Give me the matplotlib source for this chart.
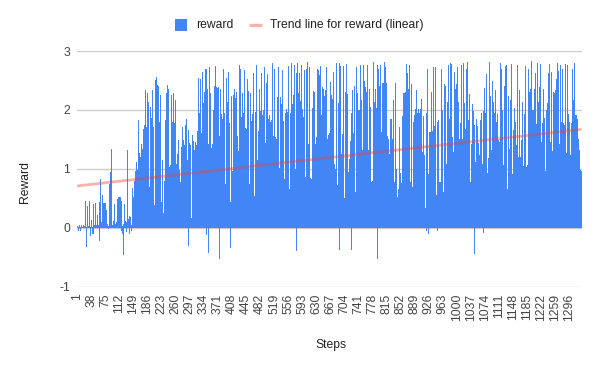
import matplotlib
matplotlib.use("Agg")
import matplotlib.pyplot as plt
from matplotlib.patches import Rectangle
from matplotlib.lines import Line2D

plt.rcParams['font.family'] = ['Liberation Sans', 'DejaVu Sans']

# Reward per step, read (estimated) from the reference chart, left to right
reward = [
0.01, 0.03, 0.02, -0.05, 0.01, 0.02, 0.05, 0.01, 0.01, -0.06, 0.02, 0.04, 0.02, 0.01, 0.02, 0.01, 0.05, 0.02, 0.01, 0.03, 0.02,
0.02, 0.46, 0.01, -0.33, 0.02, 0.03, 0.37, 0.01, 0.02, 0.03, 0.01, 0.46, 0.02, 0.02, -0.14, 0.01, 0.14, 0.03, 0.01, -0.10, 0.02,
-0.10, 0.40, 0.02, 0.05, 0.02, 0.03, 0.42, 0.02, 0.01, 0.05, 0.03, 0.21, 0.03, 0.02, 0.05, 0.01, 0.43, 0.04, -0.23, 0.83, 0.05,
0.04, 0.10, 0.02, 0.55, 0.06, 0.08, 0.42, 0.05, 0.12, 0.42, 0.06, 0.42, 0.09, 0.05, 0.31, 0.04, 0.07, 0.02, 0.01, 0.03, -0.02,
0.02, 0.74, 0.03, 0.94, 0.05, 0.03, 1.34, 0.02, 0.01, 0.04, 0.02, 0.12, 0.03, 0.05, 0.41, 0.03, 0.07, 0.02, 0.04, 0.10, 0.06,
0.09, 0.48, 0.12, 0.52, 0.31, 0.28, 0.52, 0.35, 0.22, 0.52, 0.06, 0.46, -0.06, 0.03, -0.10, 0.02, 0.06, -0.46, 0.04, 0.41, 0.05,
0.05, 0.12, 0.03, 0.10, 0.04, -0.07, 1.32, 0.06, 0.08, 0.15, 0.05, 0.20, -0.10, 0.07, 0.18, 0.04, 0.05, -0.05, 0.03, 0.68, 0.04,
0.31, 0.52, 0.44, 0.80, 0.46, 0.62, 0.96, 0.71, 0.83, 1.12, 0.75, 0.98, 0.87, 0.91, 1.83, 0.95, 1.27, 1.08, 1.05, 1.20, 1.11,
1.12, 1.43, 1.16, 1.34, 1.21, 1.25, 1.67, 1.31, 1.42, 1.75, 1.55, 2.34, 1.58, 1.50, 1.71, 1.62, 2.29, 1.64, 0.55, 2.14, 0.61,
0.42, 0.69, 0.58, 2.05, 0.63, 1.65, 1.87, 1.72, 1.60, 2.34, 1.55, 1.71, 0.31, 0.22, 0.38, 0.30, 2.50, 0.35, 2.21, 2.56, 2.34,
2.30, 2.42, 2.18, 2.40, 1.75, 1.62, 1.80, 1.71, 0.40, 2.25, 0.33, 0.43, 0.21, 0.18, 1.15, 0.22, 0.25, 0.12, 0.21, 0.80, 0.17,
0.72, 1.83, 0.65, 2.28, 1.74, 2.11, 2.42, 2.20, 0.97, 2.35, 1.01, 1.03, 0.88, 0.94, 1.06, 0.99, 2.25, 1.01, 1.62, 1.80, 1.74,
1.70, 2.29, 1.58, 1.77, 1.66, 1.03, 2.17, 0.98, 1.01, 1.09, 0.96, 1.26, 1.05, 0.93, 1.49, 0.90, 0.98, 0.72, 0.64, 0.78, 0.70,
0.71, 1.37, 0.75, 1.71, 1.28, 1.33, 1.49, 1.37, 1.30, 1.41, 1.34, 1.74, 1.29, 1.11, 1.84, 1.06, 1.15, 1.02, 1.09, 1.66, 1.13,
-0.31, 1.44, 1.32, 1.40, 0.12, 0.09, 0.16, 0.13, 0.14, 1.57, 1.28, 1.47, 1.31, 1.21, 1.32, 1.25, 1.46, 1.30, 1.27, 1.40, 1.33,
1.35, 1.64, 1.52, 2.55, 1.60, 1.58, 1.94, 1.55, 1.49, 2.52, 1.57, 1.61, 1.44, 1.52, 2.22, 1.59, 2.64, 2.05, 2.12, 2.31, 2.18,
2.21, 2.70, 2.35, 2.70, 2.28, -0.12, 2.36, 1.38, 1.35, 1.42, -0.43, 2.73, 1.40, 1.31, 1.53, 1.45, 2.29, 1.36, 1.29, 1.42, 1.33,
1.38, 2.00, 1.85, 2.40, 1.96, 2.20, 2.74, 2.31, 2.25, 2.39, 2.30, 2.38, 1.52, 1.44, 1.57, 1.50, 2.39, 1.55, -0.53, 2.36, 1.41,
1.39, 1.47, 1.42, 1.93, 1.44, 1.85, 2.69, 1.90, 0.70, 1.94, 0.66, 0.74, 0.61, 0.68, 2.55, 2.02, 2.21, 2.13, 0.42, 2.64, 0.38,
0.33, 0.46, 0.41, 1.78, 0.44, -0.35, 2.23, 0.91, 0.88, 0.96, 0.93, 2.25, 0.92, 2.05, 2.25, 2.17, 2.35, 2.20, 0.65, 2.31, 0.62,
0.58, 0.69, 0.64, 1.55, 0.67, 1.31, 2.76, 1.28, 1.25, 1.32, 1.29, 2.69, 1.30, 1.88, 1.98, 1.91, 2.28, 1.95, 1.62, 2.68, 1.66,
1.61, 1.70, 1.58, 1.70, 1.65, 1.68, 2.53, 2.10, 1.85, 2.32, 1.90, 1.94, 0.75, 0.71, 0.79, 0.73, 2.28, 0.77, 1.81, 1.93, 1.87,
0.55, 2.62, 0.52, 0.58, 0.49, 0.54, 1.97, 1.40, 1.17, 2.76, 1.20, 1.23, 1.15, 1.12, 1.19, 1.16, 1.64, 1.18, 1.55, 2.35, 1.61,
1.98, 2.62, 1.95, 2.02, 1.92, 1.41, 2.00, 1.38, 1.36, 1.46, 1.42, 2.73, 1.44, 1.40, 2.46, 1.43, 1.46, 1.39, 1.41, 2.61, 1.85,
1.80, 1.91, 1.84, 1.88, 1.79, 1.76, 1.83, 1.79, 1.81, 2.79, 2.20, 2.28, 1.55, 1.50, 1.59, 1.53, 2.69, 1.49, 1.47, 1.54, 1.50,
1.49, 1.81, 1.72, 2.22, 1.75, 1.05, 2.73, 1.02, 0.98, 1.09, 1.03, 2.22, 1.06, 2.10, 2.68, 2.15, 2.45, 1.76, 0.85, 1.81, 0.82,
0.80, 0.89, 0.84, 1.94, 0.86, 1.88, 2.02, 1.91, 1.97, 2.74, 2.30, 2.52, 0.65, 0.61, 0.69, 0.66, 1.94, 0.63, 1.85, 2.79, 1.90,
2.10, 2.25, 2.15, 2.25, 2.08, 0.97, 2.76, 0.99, 0.95, 1.02, -0.39, 2.62, 0.98, 2.22, 2.80, 2.20, 2.28, 2.18, 2.21, 2.62, 2.15,
1.24, 2.76, 1.22, 1.27, 1.19, 1.21, 2.02, 1.88, 0.70, 2.68, 0.68, 0.73, 0.66, 0.69, 0.86, 0.72, 2.70, 0.80, 1.38, 2.82, 1.42,
1.40, 1.47, 1.35, 2.73, 0.80, 0.78, 0.85, 0.81, 0.83, 1.66, 1.58, 2.04, 1.61, 1.95, 2.32, 2.01, 2.31, 1.40, 1.38, 1.43, 1.36,
1.39, 1.54, 1.47, 2.70, 1.50, 2.55, 2.68, 2.60, 1.75, 2.75, 1.78, 1.81, 1.72, 1.77, 1.91, 1.80, 2.39, 1.86, 2.20, 2.36, 2.15,
2.12, 2.23, 2.18, 2.34, 2.19, 1.52, 2.73, 1.49, 1.50, 1.57, 1.48, 1.55, 1.46, 1.51, 1.60, 1.53, 2.48, 1.58, 2.10, 2.25, 2.14,
2.06, 2.18, 2.11, 2.64, 1.05, 1.01, 1.09, 0.98, 1.00, 2.80, 1.03, 1.06, 0.70, 0.66, 0.72, 0.68, 2.12, -0.38, 0.70, 2.80, 2.44,
1.22, 2.74, 1.20, 1.25, 1.18, 1.21, 1.59, 1.50, 0.48, 2.74, 0.47, 0.51, 0.45, 0.49, 2.31, 2.20, 2.78, 2.18, 0.90, 2.27, 0.88,
0.86, 0.95, 0.91, 1.17, 0.93, 1.12, 1.47, -0.38, 1.40, 1.94, 1.45, 2.34, 1.55, 1.52, 1.61, 1.56, 2.40, 0.58, 0.55, 0.61, 0.57,
0.59, 2.73, 2.20, 2.29, 1.95, 1.90, 2.00, 1.93, 1.92, 2.00, 1.96, 2.76, 2.05, 1.28, 2.17, 1.25, 1.32, 1.22, 1.26, 2.76, 2.30,
2.28, 2.49, 2.33, 2.39, 2.25, 2.20, 2.31, 2.24, 1.30, 2.76, 1.27, 1.32, 1.24, 1.29, 2.36, 1.98, 2.05, 0.74, 0.71, 0.78, 0.70,
0.72, 0.80, 0.75, 2.82, 0.77, 2.05, 2.14, 2.01, 1.98, 2.35, 2.04, 2.02, -0.53, 1.96, 2.76, 2.25, 2.70, 2.31, 2.28, 2.40, 2.33,
1.60, 2.76, 1.58, 1.63, 1.55, 1.59, 2.45, 2.30, 2.33, 2.45, 2.38, 2.82, 2.40, 2.35, 2.73, 2.41, 2.45, 1.52, 1.48, 1.55, 1.46,
1.22, 1.50, 1.20, 1.26, 1.18, 1.23, 1.84, 1.77, 1.47, 1.84, 1.45, 1.51, 1.44, 0.75, 2.17, 0.73, 0.78, 0.70, 0.74, 2.45, 0.95,
0.48, 1.00, 0.50, 0.52, 0.45, 0.49, 0.66, 0.60, 0.63, 1.71, 0.88, 0.93, 0.71, 0.70, 0.76, 0.73, 1.89, 0.74, 1.80, 2.28, 1.85,
2.20, 2.29, 2.24, 2.31, 2.22, 2.27, 2.78, 2.55, 2.31, 2.63, 2.34, 2.36, 2.29, 0.75, 2.76, 0.72, 0.78, 0.68, 0.66, 2.44, 0.64,
0.62, 0.70, 0.65, 1.80, 0.67, 1.72, 1.91, 1.75, 1.85, 2.02, 1.88, 2.34, 1.90, 1.86, 1.94, 1.89, 2.02, 1.87, 1.82, 1.94, 1.85,
1.90, 2.02, 1.95, 2.19, 1.25, 1.22, 1.29, 1.20, 1.18, 1.89, 1.19, 1.23, 0.31, 0.28, 0.34, 0.30, 1.94, -0.05, 0.88, 2.70, 0.86,
-0.10, 0.92, 0.85, 1.63, 0.89, 1.55, 1.63, 1.58, 1.60, 2.31, 1.59, 1.64, 1.57, 1.61, 2.73, 1.66, 1.72, 1.64, 0.52, 2.72, 0.50,
0.48, 0.55, 0.51, 1.80, -0.05, 0.75, 1.83, 0.73, 0.70, 0.78, 0.74, 0.78, 0.72, 0.76, 2.70, 1.95, 2.00, 0.58, 0.55, 0.61, 0.57,
0.59, 2.44, 2.30, 2.40, 1.05, 1.02, 1.09, 1.04, 1.06, 2.14, 2.05, 2.76, 1.80, 1.75, 1.84, 1.78, 2.80, 1.81, 1.50, 2.78, 1.48,
1.25, 1.54, 1.27, 1.29, 1.22, 1.26, 2.65, 2.30, 2.28, 2.36, 2.31, 2.44, 2.33, 2.10, 2.73, 2.08, 2.14, 1.45, 1.43, 1.50, 1.46,
1.47, 1.78, 1.70, 2.76, 1.45, 1.44, 1.50, 1.42, 1.47, 2.80, 2.05, 2.12, 1.62, 1.60, 1.68, 1.63, 2.70, 1.65, 1.79, 2.82, 1.80,
1.77, 1.83, 0.75, 2.27, 0.74, 0.71, 0.78, 0.73, 0.76, 1.43, 1.38, 2.10, 1.40, 1.90, 1.98, 1.92, 1.74, -0.44, 1.08, 1.12, 1.05,
1.10, 1.84, 1.70, 1.72, 1.40, 1.38, 1.44, 1.20, 1.18, 1.23, 1.19, 1.83, 1.21, 1.05, 1.94, 1.03, 1.08, 1.01, 1.04, 1.98, -0.09,
1.90, 2.38, 1.92, 1.94, 1.88, 0.90, 2.61, 0.88, 0.85, 0.93, 0.89, 1.19, 0.91, 1.15, 2.82, 2.20, 2.23, 1.30, 1.26, 1.32, 1.28,
1.30, 2.49, 2.10, 2.14, 1.90, 1.88, 1.95, 1.91, 1.85, 2.34, 1.78, 1.80, 1.75, 1.45, 1.93, 1.47, 1.49, 1.42, 1.40, 1.46, 1.43,
1.44, 2.79, 2.30, 2.70, 1.95, 1.02, 2.00, 1.01, 0.98, 1.06, 1.03, 2.40, 1.04, 2.35, 2.74, 2.38, 2.76, 0.62, 0.60, 0.65, 0.58,
0.63, 2.23, 1.30, 1.33, 1.28, 1.31, 2.17, 2.10, 0.88, 2.78, 0.86, 0.91, 0.85, 0.89, 1.66, 1.60, 2.04, 1.70, 1.35, 1.80, 1.38,
1.33, 1.40, 1.17, 2.76, 1.15, 1.12, 1.20, 1.16, 1.14, 2.34, 1.18, 1.20, 1.13, 1.17, 1.49, 1.42, 2.14, 1.00, 0.98, 1.04, 0.96,
1.01, 1.93, 1.85, 2.74, 0.99, 0.97, 1.03, 0.95, 1.00, 1.06, 1.02, 2.70, 1.04, 2.25, 2.31, 2.27, 2.36, 2.29, 1.95, 2.83, 1.97,
1.93, 2.00, 1.96, 2.00, 1.94, 1.98, 2.36, 2.30, 1.70, 2.63, 1.72, 1.76, 1.68, 1.71, 2.79, 2.08, 2.14, 2.05, 2.10, 2.39, 2.12,
1.43, 2.78, 1.40, 1.46, 1.38, 1.41, 1.77, 1.70, 1.75, 2.35, 1.80, 1.87, 0.92, 0.90, 0.96, 0.93, 2.00, 0.94, 1.95, 2.12, 1.98,
2.05, 2.62, 2.10, 2.78, 1.42, 1.40, 1.46, 1.38, 1.27, 2.65, 1.25, 1.30, 1.22, 1.26, 2.31, 2.22, 2.28, 2.20, 2.25, 2.34, 2.27,
2.30, 2.53, 2.45, 2.80, 2.50, 1.40, 2.66, 1.38, 1.35, 1.43, 1.39, 2.76, 1.41, 1.72, 1.80, 1.74, 2.69, 1.73, 1.70, 1.77, 1.71,
1.69, 1.74, 1.66, 2.78, 1.24, 1.21, 1.27, 1.19, 1.25, 2.76, 1.88, 1.93, 1.76, 1.20, 1.80, 1.18, 1.23, 1.16, 1.20, 1.77, 1.70,
1.72, 2.70, 2.10, 2.17, 2.08, 1.85, 2.79, 1.88, 1.83, 1.91, 1.86, 1.91, 1.80, 1.48, 1.85, 1.47, 1.51, 1.29, 1.28, 1.32, 0.95,
0.92, 0.98, 0.94, 0.97, 0.90,
]

steps = list(range(1, len(reward) + 1))

# Linear trend line values at the first and last step
trend_first = 0.71
trend_last = 1.67

# Axis ticks
y_ticks = [-1, 0, 1, 2, 3]
x_tick_steps = [1, 38, 75, 112, 149, 186, 223, 260, 297, 334, 371, 408, 445, 482,
                519, 556, 593, 630, 667, 704, 741, 778, 815, 852, 889, 926, 963,
                1000, 1037, 1074, 1111, 1148, 1185, 1222, 1259, 1296]

BLUE = '#4285F4'
TREND = '#EA4335'
W, H = 600, 371

fig = plt.figure(figsize=(W / 100, H / 100), dpi=100)
ax = fig.add_axes([77 / W, 1 - 286.7 / H, 504.7 / W, (286.7 - 51) / H])

N = len(reward)
ax.set_xlim(0.5, N + 0.5)
ax.set_ylim(-1, 3)

# one pixel wide bars
ax_px = ax.get_position().width * W
bw = N / ax_px

ax.bar(steps, reward, width=bw, color=BLUE, linewidth=0, antialiased=False, zorder=2)

slope = (trend_last - trend_first) / (steps[-1] - steps[0])
tx = [0.5, N + 0.5]
ty = [trend_first + slope * (x - steps[0]) for x in tx]
ax.plot(tx, ty, color=TREND, alpha=0.4, lw=2.0, zorder=3, solid_capstyle='butt')

ax.set_yticks(y_ticks)
ax.set_yticklabels([str(v) for v in y_ticks])
ax.set_xticks(x_tick_steps)
ax.set_xticklabels([str(v) for v in x_tick_steps], rotation=90)
ax.tick_params(axis='both', length=0, labelsize=8.7, colors='#444444')
ax.tick_params(axis='y', pad=5)
ax.tick_params(axis='x', pad=5)
ax.grid(axis='y', color='#cccccc', lw=1, zorder=0)
ax.set_axisbelow(True)
for s in ax.spines.values():
    s.set_visible(False)

# axis titles
fig.text(25 / W, 1 - 182 / H, 'Reward', rotation=90, ha='center', va='center',
         fontsize=8.7, color='#222222')
fig.text(331 / W, 1 - 345 / H, 'Steps', ha='center', va='center',
         fontsize=8.7, color='#222222')

# legend
fig.add_artist(Rectangle((175 / W, 1 - 31 / H), 12 / W, 12 / H,
                         transform=fig.transFigure, color=BLUE, lw=0))
fig.text(196 / W, 1 - 25 / H, 'reward', ha='left', va='center', fontsize=8.7, color='#222222')
fig.add_artist(Line2D([249 / W, 262 / W], [1 - 25 / H, 1 - 25 / H], transform=fig.transFigure,
                      color=TREND, alpha=0.4, lw=2.4, solid_capstyle='butt'))
fig.text(270 / W, 1 - 25 / H, 'Trend line for reward (linear)', ha='left', va='center',
         fontsize=8.7, color='#222222')

fig.savefig('out.png', dpi=100)
